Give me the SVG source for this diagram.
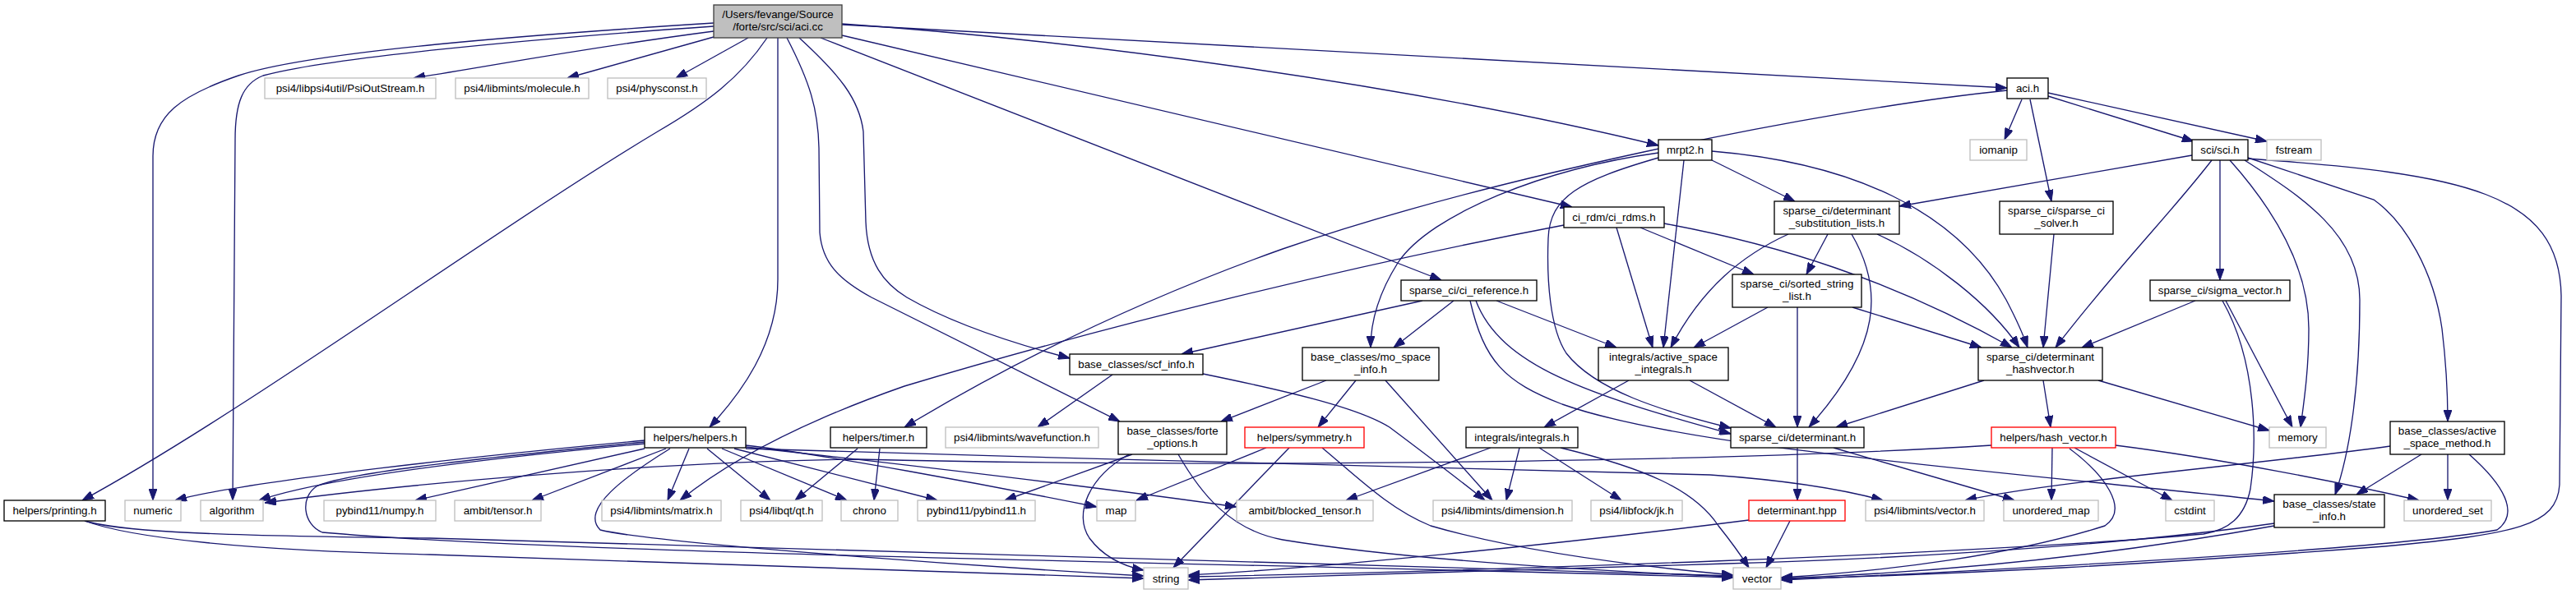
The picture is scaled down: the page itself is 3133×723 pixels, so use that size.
<svg xmlns="http://www.w3.org/2000/svg" width="3133" height="723" viewBox="0 0 3133 723">
<style>
.n rect{fill:#fff;stroke:#000;stroke-width:1.33}
.g rect{fill:#fff;stroke:#bfbfbf;stroke-width:1.33}
.r rect{fill:#fff;stroke:#f00;stroke-width:1.33}
.root rect{fill:#bfbfbf;stroke:#404040;stroke-width:1.33}
text{font-family:"Liberation Sans",Arial,Helvetica,sans-serif;font-size:13.33px;fill:#000;text-anchor:middle}
.e path{fill:none;stroke:#191970;stroke-width:1.33;marker-end:url(#a)}
</style>
<defs>
<marker id="a" viewBox="0 0 14 10" refX="14" refY="5" markerWidth="14" markerHeight="10" markerUnits="userSpaceOnUse" orient="auto">
<path d="M0,0 L14,5 L0,10 z" fill="#191970" stroke="#191970" stroke-width="1"/>
</marker>
</defs>
<rect width="3133" height="723" fill="#fff"/>
<g id="connectors" class="e">
<path d="M868,38 C700,60 600,80 503,95"/>
<path d="M868,45 L690,95"/>
<path d="M910,46 L822,95"/>
<path d="M868,28 C650,42 380,62 290,92 C220,116 186,140 186,190 L186,609"/>
<path d="M868,32 C650,47 400,70 320,92 C295,102 286,125 286,170 L283,609"/>
<path d="M933,46 C900,95 860,125 800,160 C600,280 300,500 100,609"/>
<path d="M946,46 L946,340 C946,420 900,480 863,520"/>
<path d="M972,46 C1020,90 1045,120 1050,160 L1053,270 C1055,320 1075,345 1103,362 C1160,395 1240,420 1301,436"/>
<path d="M957,46 C985,100 995,133 996,180 L997,283 C1000,320 1020,340 1060,362 L1362,513"/>
<path d="M998,46 L1753,341"/>
<path d="M1024,43 L1912,252"/>
<path d="M1024,29 C1300,48 1700,100 2017,177"/>
<path d="M1024,30 L2441,107"/>
<path d="M2459,121 L2438,170"/>
<path d="M2469,121 L2495,245"/>
<path d="M2491,117 L2668,172"/>
<path d="M2491,113 L2757,172"/>
<path d="M2441,110 C2200,135 1800,220 1560,303 C1400,360 1250,430 1100,520"/>
<path d="M2017,186 C1880,205 1740,260 1700,320 C1678,355 1667,390 1667,423"/>
<path d="M2017,192 C1920,220 1885,240 1883,290 C1881,340 1885,400 1905,430 C1940,475 2020,500 2105,521"/>
<path d="M2048,195 L2023,423"/>
<path d="M2082,195 L2183,245"/>
<path d="M2082,184 C2250,198 2380,255 2440,365 C2452,388 2460,405 2466,423"/>
<path d="M1902,274 C1650,322 1350,395 1100,470 C1000,505 900,550 827,609"/>
<path d="M1966,277 L2010,423"/>
<path d="M1995,277 L2133,334"/>
<path d="M2024,272 C2160,297 2300,340 2447,423"/>
<path d="M1730,366 L1437,431"/>
<path d="M1768,366 L1695,423"/>
<path d="M1820,366 L1966,423"/>
<path d="M1795,366 C1825,445 1930,480 2105,528"/>
<path d="M1788,366 C1805,440 1830,465 1900,492 C2050,545 2400,570 2766,610"/>
<path d="M2666,189 L2310,251"/>
<path d="M2700,195 L2700,341"/>
<path d="M2690,195 C2640,260 2575,325 2500,423"/>
<path d="M2712,195 C2770,260 2808,330 2808,400 C2808,450 2802,490 2798,520"/>
<path d="M2734,192 L2887,243 C2925,270 2960,330 2970,400 C2976,450 2977,490 2977,513"/>
<path d="M2730,195 C2800,240 2870,285 2870,365 C2870,460 2860,545 2840,602"/>
<path d="M2734,193 C3000,212 3113,235 3115,360 L3113,590 C3110,640 3060,650 2900,665 C2600,688 2400,698 2166,705"/>
<path d="M2223,285 L2197,334"/>
<path d="M2175,285 C2120,310 2070,350 2032,423"/>
<path d="M2252,285 C2290,350 2290,420 2200,520"/>
<path d="M2283,285 C2350,315 2420,370 2456,423"/>
<path d="M2498,285 L2485,423"/>
<path d="M2150,374 L2060,423"/>
<path d="M2186,374 L2186,520"/>
<path d="M2253,374 L2410,423"/>
<path d="M2670,366 L2532,423"/>
<path d="M2707,366 L2788,520"/>
<path d="M2703,366 C2745,440 2745,540 2737,595 C2730,630 2710,645 2680,650 C2400,675 1800,695 1445,702"/>
<path d="M1353,456 L1262,520"/>
<path d="M1463,455 C1560,475 1650,495 1690,520 C1730,550 1770,580 1806,609"/>
<path d="M1613,463 L1485,513"/>
<path d="M1649,463 L1603,520"/>
<path d="M1685,463 L1815,609"/>
<path d="M1981,463 L1878,520"/>
<path d="M2055,463 L2160,520"/>
<path d="M2413,463 L2233,520"/>
<path d="M2485,463 L2494,520"/>
<path d="M2552,463 L2760,524"/>
<path d="M1813,545 L1637,609"/>
<path d="M1848,545 L1832,609"/>
<path d="M1872,545 L1972,609"/>
<path d="M1898,545 C2000,570 2060,595 2090,640 C2110,665 2120,680 2127,691"/>
<path d="M1540,545 L1382,609"/>
<path d="M1568,545 L1427,691"/>
<path d="M1608,545 C1650,580 1690,620 1740,640 C1850,672 2000,690 2108,700"/>
<path d="M1377,553 L1222,609"/>
<path d="M1373,553 C1325,580 1305,625 1325,655 C1340,675 1360,688 1391,694"/>
<path d="M1433,553 C1460,600 1495,645 1560,657 C1700,680 1900,693 2108,702"/>
<path d="M784,536 C600,553 300,585 213,609"/>
<path d="M784,540 C600,557 400,580 315,609"/>
<path d="M784,546 L505,609"/>
<path d="M810,546 L647,609"/>
<path d="M838,546 L812,609"/>
<path d="M860,546 L937,609"/>
<path d="M878,546 L1030,609"/>
<path d="M893,546 L1140,609"/>
<path d="M907,542 C1000,553 1200,590 1334,617"/>
<path d="M907,544 C1100,565 1350,595 1504,617"/>
<path d="M907,546 C1300,560 1800,567 2080,578 C2180,585 2250,598 2290,609"/>
<path d="M815,546 C760,580 705,620 730,645 C800,662 1200,690 1391,701"/>
<path d="M784,538 C600,556 420,575 385,592 C365,605 368,638 392,648 C700,675 1500,685 2108,703"/>
<path d="M1043,546 L967,609"/>
<path d="M1070,546 L1063,609"/>
<path d="M103,634 C160,655 300,670 523,675 C900,688 1200,698 1391,704"/>
<path d="M103,634 C140,645 220,652 523,655 C1000,668 1700,690 2108,701"/>
<path d="M2186,545 L2186,609"/>
<path d="M2230,545 L2450,609"/>
<path d="M2422,542 C2100,562 1500,570 1043,559 C800,562 500,588 322,612"/>
<path d="M2496,545 L2495,609"/>
<path d="M2523,545 L2642,609"/>
<path d="M2573,542 C2700,558 2850,588 2942,609"/>
<path d="M2517,546 C2560,578 2590,620 2560,640 C2450,675 2300,695 2166,703"/>
<path d="M2127,633 C1900,662 1600,692 1445,700"/>
<path d="M2177,634 L2148,691"/>
<path d="M2945,553 L2866,602"/>
<path d="M2977,553 L2977,609"/>
<path d="M2907,543 C2750,565 2500,585 2390,609"/>
<path d="M3003,553 C3045,590 3065,625 3037,645 C2900,670 2400,695 2166,706"/>
<path d="M2766,637 C2550,668 2250,682 2100,686 C1800,694 1600,701 1445,706"/>
<path d="M2766,640 C2600,670 2400,695 2166,704"/>
</g>
<g id="n_root" class="root"><rect x="868" y="6" width="156" height="40"/><text x="946" y="22">/Users/fevange/Source</text><text x="946" y="37">/forte/src/sci/aci.cc</text></g>
<g id="n_psiout" class="g"><rect x="322" y="95" width="208" height="25"/><text x="426" y="112">psi4/libpsi4util/PsiOutStream.h</text></g>
<g id="n_molecule" class="g"><rect x="554" y="95" width="162" height="25"/><text x="635" y="112">psi4/libmints/molecule.h</text></g>
<g id="n_physconst" class="g"><rect x="739" y="95" width="120" height="25"/><text x="799" y="112">psi4/physconst.h</text></g>
<g id="n_acih" class="n"><rect x="2441" y="95" width="50" height="25"/><text x="2466" y="112">aci.h</text></g>
<g id="n_mrpt2" class="n"><rect x="2017" y="170" width="65" height="25"/><text x="2049.5" y="187">mrpt2.h</text></g>
<g id="n_iomanip" class="g"><rect x="2396" y="170" width="69" height="25"/><text x="2430.5" y="187">iomanip</text></g>
<g id="n_sci" class="n"><rect x="2666" y="170" width="68" height="25"/><text x="2700" y="187">sci/sci.h</text></g>
<g id="n_fstream" class="g"><rect x="2757" y="170" width="66" height="25"/><text x="2790" y="187">fstream</text></g>
<g id="n_cirdms" class="n"><rect x="1902" y="252" width="122" height="25"/><text x="1963" y="269">ci_rdm/ci_rdms.h</text></g>
<g id="n_detsub" class="n"><rect x="2158" y="245" width="152" height="40"/><text x="2234" y="261">sparse_ci/determinant</text><text x="2234" y="276">_substitution_lists.h</text></g>
<g id="n_solver" class="n"><rect x="2432" y="245" width="138" height="40"/><text x="2501" y="261">sparse_ci/sparse_ci</text><text x="2501" y="276">_solver.h</text></g>
<g id="n_sorted" class="n"><rect x="2107" y="334" width="157" height="40"/><text x="2185.5" y="350">sparse_ci/sorted_string</text><text x="2185.5" y="365">_list.h</text></g>
<g id="n_ciref" class="n"><rect x="1704" y="341" width="165" height="25"/><text x="1786.5" y="358">sparse_ci/ci_reference.h</text></g>
<g id="n_sigma" class="n"><rect x="2615" y="341" width="170" height="25"/><text x="2700" y="358">sparse_ci/sigma_vector.h</text></g>
<g id="n_scf" class="n"><rect x="1301" y="431" width="162" height="25"/><text x="1382" y="448">base_classes/scf_info.h</text></g>
<g id="n_mospace" class="n"><rect x="1584" y="423" width="166" height="40"/><text x="1667" y="439">base_classes/mo_space</text><text x="1667" y="454">_info.h</text></g>
<g id="n_asi" class="n"><rect x="1944" y="423" width="158" height="40"/><text x="2023" y="439">integrals/active_space</text><text x="2023" y="454">_integrals.h</text></g>
<g id="n_dethv" class="n"><rect x="2406" y="423" width="151" height="40"/><text x="2481.5" y="439">sparse_ci/determinant</text><text x="2481.5" y="454">_hashvector.h</text></g>
<g id="n_helpers" class="n"><rect x="784" y="520" width="123" height="25"/><text x="845.5" y="537">helpers/helpers.h</text></g>
<g id="n_timer" class="n"><rect x="1010" y="520" width="117" height="25"/><text x="1068.5" y="537">helpers/timer.h</text></g>
<g id="n_wfn" class="g"><rect x="1150" y="520" width="186" height="25"/><text x="1243" y="537">psi4/libmints/wavefunction.h</text></g>
<g id="n_forteopt" class="n"><rect x="1360" y="513" width="132" height="40"/><text x="1426" y="529">base_classes/forte</text><text x="1426" y="544">_options.h</text></g>
<g id="n_symmetry" class="r"><rect x="1514" y="520" width="145" height="25"/><text x="1586.5" y="537">helpers/symmetry.h</text></g>
<g id="n_integrals" class="n"><rect x="1783" y="520" width="136" height="25"/><text x="1851" y="537">integrals/integrals.h</text></g>
<g id="n_det" class="n"><rect x="2105" y="520" width="162" height="25"/><text x="2186" y="537">sparse_ci/determinant.h</text></g>
<g id="n_hashvec" class="r"><rect x="2422" y="520" width="151" height="25"/><text x="2497.5" y="537">helpers/hash_vector.h</text></g>
<g id="n_memory" class="g"><rect x="2760" y="520" width="69" height="25"/><text x="2794.5" y="537">memory</text></g>
<g id="n_asm" class="n"><rect x="2907" y="513" width="139" height="40"/><text x="2976.5" y="529">base_classes/active</text><text x="2976.5" y="544">_space_method.h</text></g>
<g id="n_printing" class="n"><rect x="5" y="609" width="123" height="25"/><text x="66.5" y="626">helpers/printing.h</text></g>
<g id="n_numeric" class="g"><rect x="152" y="609" width="68" height="25"/><text x="186" y="626">numeric</text></g>
<g id="n_algorithm" class="g"><rect x="244" y="609" width="76" height="25"/><text x="282" y="626">algorithm</text></g>
<g id="n_numpy" class="g"><rect x="394" y="609" width="136" height="25"/><text x="462" y="626">pybind11/numpy.h</text></g>
<g id="n_tensor" class="g"><rect x="553" y="609" width="105" height="25"/><text x="605.5" y="626">ambit/tensor.h</text></g>
<g id="n_matrix" class="g"><rect x="732" y="609" width="145" height="25"/><text x="804.5" y="626">psi4/libmints/matrix.h</text></g>
<g id="n_qt" class="g"><rect x="901" y="609" width="99" height="25"/><text x="950.5" y="626">psi4/libqt/qt.h</text></g>
<g id="n_chrono" class="g"><rect x="1023" y="609" width="69" height="25"/><text x="1057.5" y="626">chrono</text></g>
<g id="n_pybind" class="g"><rect x="1116" y="609" width="143" height="25"/><text x="1187.5" y="626">pybind11/pybind11.h</text></g>
<g id="n_map" class="g"><rect x="1334" y="609" width="47" height="25"/><text x="1357.5" y="626">map</text></g>
<g id="n_blocked" class="g"><rect x="1504" y="609" width="166" height="25"/><text x="1587" y="626">ambit/blocked_tensor.h</text></g>
<g id="n_dimension" class="g"><rect x="1743" y="609" width="169" height="25"/><text x="1827.5" y="626">psi4/libmints/dimension.h</text></g>
<g id="n_jk" class="g"><rect x="1935" y="609" width="111" height="25"/><text x="1990.5" y="626">psi4/libfock/jk.h</text></g>
<g id="n_dethpp" class="r"><rect x="2127" y="609" width="117" height="25"/><text x="2185.5" y="626">determinant.hpp</text></g>
<g id="n_libvector" class="g"><rect x="2269" y="609" width="144" height="25"/><text x="2341" y="626">psi4/libmints/vector.h</text></g>
<g id="n_umap" class="g"><rect x="2437" y="609" width="115" height="25"/><text x="2494.5" y="626">unordered_map</text></g>
<g id="n_cstdint" class="g"><rect x="2634" y="609" width="59" height="25"/><text x="2663.5" y="626">cstdint</text></g>
<g id="n_state" class="n"><rect x="2766" y="602" width="134" height="40"/><text x="2833" y="618">base_classes/state</text><text x="2833" y="633">_info.h</text></g>
<g id="n_uset" class="g"><rect x="2924" y="609" width="106" height="25"/><text x="2977" y="626">unordered_set</text></g>
<g id="n_string" class="g"><rect x="1391" y="691" width="54" height="26"/><text x="1418" y="709">string</text></g>
<g id="n_vector" class="g"><rect x="2108" y="691" width="58" height="26"/><text x="2137" y="709">vector</text></g>
</svg>
